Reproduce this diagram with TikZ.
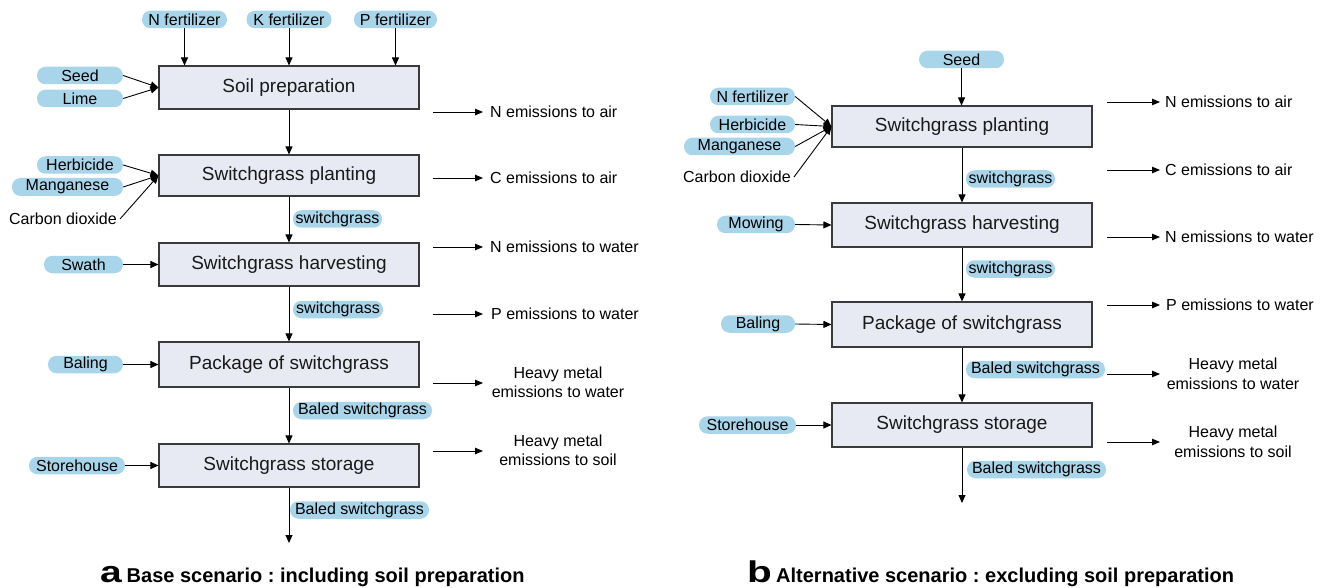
\documentclass[tikz,border=0pt]{standalone}
\usepackage{fontspec}
\setmainfont{Liberation Sans}
\usetikzlibrary{arrows.meta}
\definecolor{pillblue}{HTML}{A9D5EB}
\definecolor{boxfill}{HTML}{E7EAF2}
\definecolor{boxline}{HTML}{3A3A3A}
\frenchspacing
\begin{document}
\begin{tikzpicture}[x=1pt,y=-1pt,
  box/.style={draw=boxline, line width=1.1pt, fill=boxfill, minimum width=260pt, minimum height=43pt, inner sep=0pt, font=\fontsize{19}{22}\selectfont, text=black!90},
  pill/.style={fill=pillblue, rounded corners=8.5pt, minimum height=17.5pt, inner sep=0pt, font=\fontsize{16}{18}\selectfont},
  lbl/.style={inner sep=0pt, font=\fontsize{16}{19.5}\selectfont},
  arr/.style={-{Triangle[length=8pt,width=7pt]}, line width=0.9pt},
  emi/.style={-{Triangle[length=8pt,width=6.5pt]}, line width=0.9pt},
  capl/.style={anchor=base west, inner sep=0pt, font=\fontsize{30}{30}\bfseries},
  capt/.style={anchor=base west, inner sep=0pt, font=\fontsize{20}{22}\bfseries},
]
\useasboundingbox[fill=white] (0,0) rectangle (1328,588);

% ===================== Panel a =====================
\node[box] (sp) at (289,87.5) {Soil preparation};
\node[box, minimum height=41pt] (pl) at (289,175.5) {Switchgrass planting};
\node[box] (hv) at (289,264.5) {Switchgrass harvesting};
\node[box, minimum height=45pt] (pk) at (289,364.5) {Package of switchgrass};
\node[box] (st) at (289,465.5) {Switchgrass storage};
\coordinate (aend) at (289,543);

\node[pill, minimum width=85pt] (nf) at (184.5,19.5) {N fertilizer};
\node[pill, minimum width=85pt] (kf) at (289,19.5) {K fertilizer};
\node[pill, minimum width=83pt] (pf) at (395.5,19.5) {P fertilizer};
\draw[arr] (nf.south) -- (nf.south |- sp.north);
\draw[arr] (kf.south) -- (kf.south |- sp.north);
\draw[arr] (pf.south) -- (pf.south |- sp.north);

\node[pill, minimum width=86pt] (seed) at (80,75.5) {Seed};
\node[pill, minimum width=86pt] (lime) at (80,98.5) {Lime};
\draw[arr] (seed.east) -- (sp.west);
\draw[arr] (lime.east) -- (sp.west);

\node[pill, minimum width=86pt] (herb) at (80,165) {Herbicide};
\node[pill, minimum width=111pt, minimum height=18pt] (mang) at (67.5,187) {Manganese};
\node[lbl, inner xsep=3pt] (co2) at (63,219) {Carbon dioxide};
\draw[arr] (herb.east) -- (pl.west);
\draw[arr] (mang.east) -- (pl.west);
\draw[arr] (co2.east) -- (pl.west);

\node[pill, minimum width=89pt] (sw1) at (337.5,219) {switchgrass};
\node[pill, minimum width=79pt] (swath) at (83.5,264.5) {Swath};
\node[pill, minimum width=90pt] (sw2) at (338,309.5) {switchgrass};
\node[pill, minimum width=75pt] (bal) at (85.5,364.5) {Baling};
\node[pill, minimum width=139pt] (bs1) at (362.5,410.5) {Baled switchgrass};
\node[pill, minimum width=96pt] (sth) at (77,465.5) {Storehouse};
\node[pill, minimum width=139pt] (bs2) at (359.5,510) {Baled switchgrass};

\draw[arr] (sp) -- (pl);
\draw[arr] (pl) -- (hv);
\draw[arr] (hv) -- (pk);
\draw[arr] (pk) -- (st);
\draw[arr] (st.south) -- (aend);
\draw[arr] (swath.east) -- (hv.west);
\draw[arr] (bal.east) -- (pk.west);
\draw[arr] (sth.east) -- (st.west);

% emissions a
\foreach \n/\y in {1/112,2/178,3/247,4/314,5/383,6/451}{
  \coordinate (ea\n s) at (433,\y);
  \coordinate (ea\n e) at (483,\y);
  \draw[emi] (ea\n s) -- (ea\n e);
}
\node[lbl, anchor=west] (la1) at (490,112) {N emissions to air};
\node[lbl, anchor=west] (la2) at (490,178) {C emissions to air};
\node[lbl, anchor=west] (la3) at (490,247) {N emissions to water};
\node[lbl, anchor=west] (la4) at (491,314) {P emissions to water};
\node[lbl, align=center] (la5) at (558,382.5) {Heavy metal\\emissions to water};
\node[lbl, align=center] (la6) at (558,450.5) {Heavy metal\\emissions to soil};

% ===================== Panel b =====================
\node[box, minimum height=41pt] (pl2) at (962,126.5) {Switchgrass planting};
\node[box, minimum height=44pt] (hv2) at (962,225) {Switchgrass harvesting};
\node[box, minimum height=45pt] (pk2) at (962,324.5) {Package of switchgrass};
\node[box, minimum height=44pt] (st2) at (962,425) {Switchgrass storage};
\coordinate (bend) at (962,503);

\node[pill, minimum width=85pt] (seed2) at (961.5,59.5) {Seed};
\draw[arr] (seed2.south) -- (seed2.south |- pl2.north);

\node[pill, minimum width=85pt] (nf2) at (752.5,96.5) {N fertilizer};
\node[pill, minimum width=85pt] (herb2) at (752.5,124.5) {Herbicide};
\node[pill, minimum width=111pt] (mang2) at (739.5,146.5) {Manganese};
\node[lbl, inner xsep=3pt] (co22) at (737,177) {Carbon dioxide};
\draw[arr] (nf2.east) -- (pl2.west);
\draw[arr] (herb2.east) -- (pl2.west);
\draw[arr] (mang2.east) -- (pl2.west);
\draw[arr] (co22.east) -- (pl2.west);

\node[pill, minimum width=89pt] (sw3) at (1010.5,179) {switchgrass};
\node[pill, minimum width=78pt] (mow) at (756,224.5) {Mowing};
\node[pill, minimum width=89pt] (sw4) at (1010.5,269) {switchgrass};
\node[pill, minimum width=74pt] (bal2) at (758,324) {Baling};
\node[pill, minimum width=139pt] (bs3) at (1035.5,369.5) {Baled switchgrass};
\node[pill, minimum width=97pt] (sth2) at (747.5,425) {Storehouse};
\node[pill, minimum width=139pt] (bs4) at (1036.5,469.5) {Baled switchgrass};

\draw[arr] (pl2) -- (hv2);
\draw[arr] (hv2) -- (pk2);
\draw[arr] (pk2) -- (st2);
\draw[arr] (st2.south) -- (bend);
\draw[arr] (mow.east) -- (hv2.west);
\draw[arr] (bal2.east) -- (pk2.west);
\draw[arr] (sth2.east) -- (st2.west);

% emissions b
\foreach \n/\y in {1/102,2/170,3/237,4/305,5/374,6/442}{
  \coordinate (eb\n s) at (1107,\y);
  \coordinate (eb\n e) at (1160,\y);
  \draw[emi] (eb\n s) -- (eb\n e);
}
\node[lbl, anchor=west] (lb1) at (1165,102) {N emissions to air};
\node[lbl, anchor=west] (lb2) at (1165,170) {C emissions to air};
\node[lbl, anchor=west] (lb3) at (1165,237) {N emissions to water};
\node[lbl, anchor=west] (lb4) at (1166,305) {P emissions to water};
\node[lbl, align=center] (lb5) at (1233,374) {Heavy metal\\emissions to water};
\node[lbl, align=center] (lb6) at (1233,442) {Heavy metal\\emissions to soil};

% ===================== Captions =====================
\node[capl] (capa) at (100,582) {\scalebox{1.3}[1]{a}};
\node[capt] (capat) at (126.5,582) {Base scenario : including soil preparation};
\node[capl] (capb) at (747,582) {\scalebox{1.35}[1]{b}};
\node[capt] (capbt) at (776,582) {Alternative scenario : excluding soil preparation};
\end{tikzpicture}
\end{document}
